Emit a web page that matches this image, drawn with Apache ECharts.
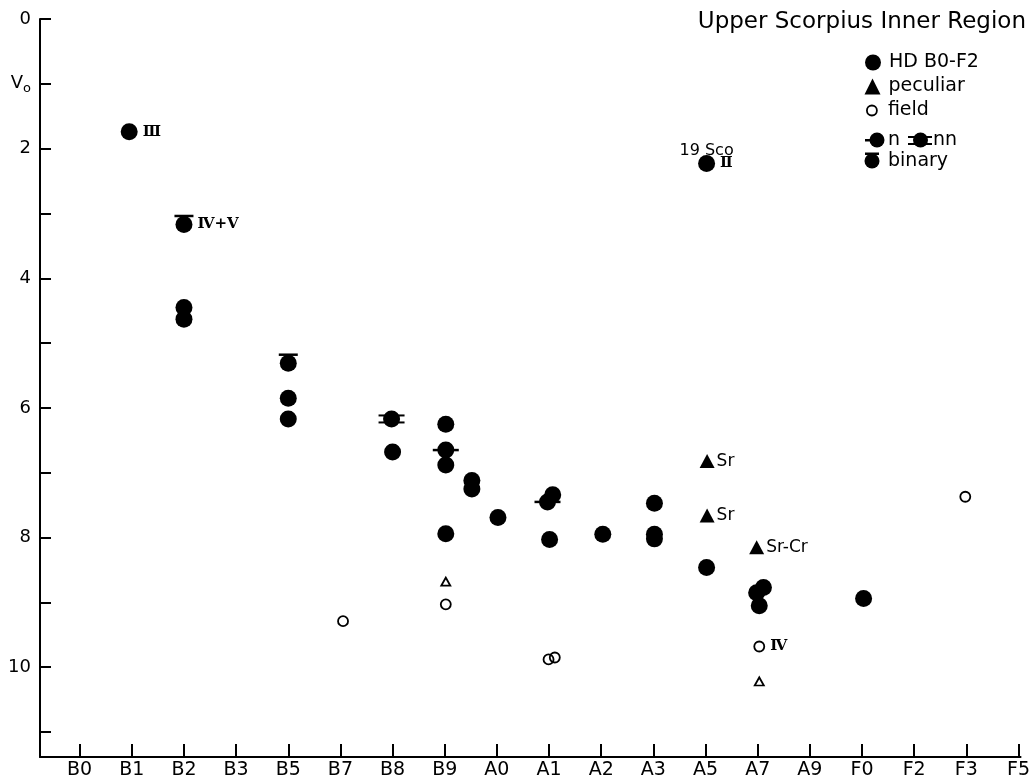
<!DOCTYPE html>
<html>
<head>
<meta charset="utf-8">
<script src="https://cdn.jsdelivr.net/npm/echarts@6/dist/echarts.min.js"></script>
<style>
html,body{margin:0;padding:0;background:#fff;}
#chart{width:1033px;height:780px;}
</style>
</head>
<body>
<div id="chart"></div>
<script>
// Spectral classes along the x axis (index = position on axis)
const spectralTypes = ['B0','B1','B2','B3','B5','B7','B8','B9','A0','A1','A2','A3','A5','A7','A9','F0','F2','F3','F5'];
const xTickValues = spectralTypes.map((_, i) => i);
const yTickValues = [0,1,2,3,4,5,6,7,8,9,10,11];
const yLabelValues = [0,1,2,4,6,8,10];

// HD B0-F2 stars: [spectral index, V0, flag, note]
const hdStars = [
  [0.95, 1.74, '', 'Ⅲ'],
  [2.00, 3.17, 'binary', 'Ⅳ+Ⅴ'],
  [2.00, 4.45, '', ''],
  [2.00, 4.63, '', ''],
  [4.00, 5.31, 'binary', ''],
  [4.00, 5.85, '', ''],
  [4.00, 6.17, '', ''],
  [5.98, 6.17, 'nn', ''],
  [6.00, 6.68, '', ''],
  [7.02, 6.25, '', ''],
  [7.02, 6.65, 'n', ''],
  [7.02, 6.88, '', ''],
  [7.02, 7.94, '', ''],
  [7.52, 7.12, '', ''],
  [7.52, 7.25, '', ''],
  [8.02, 7.69, '', ''],
  [8.97, 7.45, 'n', ''],
  [9.07, 7.34, '', ''],
  [9.01, 8.03, '', ''],
  [10.03, 7.95, '', ''],
  [11.02, 7.47, '', ''],
  [11.02, 7.95, '', ''],
  [11.02, 8.02, '', ''],
  [12.02, 8.46, '', ''],
  [12.02, 2.23, '', 'Ⅱ'],
  [13.11, 8.77, '', ''],
  [12.98, 8.85, '', ''],
  [13.03, 9.05, '', ''],
  [15.03, 8.94, '', '']
];
// Star name annotations: [spectral index, V0, text]
const starNames = [[12.02, 2.23, '19 Sco']];
// Peculiar stars: [spectral index, V0, note]
const peculiar = [
  [12.03, 6.82, 'Sr'],
  [12.03, 7.66, 'Sr'],
  [12.98, 8.15, 'Sr-Cr']
];
// Field stars: [spectral index, V0, note]
const field = [
  [5.05, 9.29, ''],
  [7.02, 9.03, ''],
  [8.99, 9.88, ''],
  [9.11, 9.85, ''],
  [13.03, 9.68, 'Ⅳ'],
  [16.98, 7.37, '']
];
// Field peculiar stars: [spectral index, V0]
const fieldPeculiar = [
  [7.02, 8.68],
  [13.03, 10.22]
];

const FONT = 'DejaVu Sans';
const ROMAN = {fontFamily: 'DejaVu Serif', fontWeight: 'bold', fontSize: 15, color: '#000'};

const hdData = hdStars.map(d => {
  const item = {value: [d[0], d[1]]};
  if (d[3]) item.label = Object.assign({show: true, position: 'right', distance: 5, formatter: d[3]}, ROMAN);
  return item;
});
const pecData = peculiar.map(d => ({value: [d[0], d[1]],
  label: {show: true, position: 'right', distance: 2, formatter: d[2], fontFamily: FONT, fontSize: 17, color: '#000'}}));
const fieldData = field.map(d => {
  const item = {value: [d[0], d[1]]};
  if (d[2]) item.label = Object.assign({show: true, position: 'right', distance: 5, formatter: d[2]}, ROMAN);
  return item;
});
const flagged = f => hdStars.filter(d => d[2] === f).map(d => [d[0], d[1]]);

const LEG_TEXT = {fontFamily: FONT, fontSize: 19, color: '#000'};

const chart = echarts.init(document.getElementById('chart'), null, {renderer: 'canvas'});
chart.setOption({
  animation: false,
  backgroundColor: '#fff',
  title: {
    text: 'Upper Scorpius Inner Region',
    right: 7, top: 11, padding: 0,
    textStyle: {fontFamily: FONT, fontSize: 23, fontWeight: 'normal', color: '#000'}
  },
  legend: [
    {data: [{name: 'HD B0-F2', icon: 'circle'}], orient: 'vertical', left: 865, top: 53, padding: 0,
     itemWidth: 22, itemHeight: 16, selectedMode: false, textStyle: LEG_TEXT},
    {data: [{name: 'peculiar', icon: 'triangle'}], orient: 'vertical', left: 864.5, top: 77, padding: 0,
     itemWidth: 16, itemHeight: 16, selectedMode: false,
     textStyle: Object.assign({padding: [0, 0, 0, 3]}, LEG_TEXT)},
    {data: [{name: 'field', icon: 'circle', itemStyle: {color: 'rgba(255,255,255,0)', borderColor: '#000', borderWidth: 1.8, opacity: 1}}],
     orient: 'vertical', left: 866, top: 101, padding: 0,
     itemWidth: 22, itemHeight: 10, selectedMode: false, textStyle: LEG_TEXT}
  ],
  graphic: [
    {type: 'rect', shape: {x: 865, y: 139, width: 10, height: 2.5}, style: {fill: '#000'}},
    {type: 'circle', shape: {cx: 877, cy: 140, r: 7.5}, style: {fill: '#000'}},
    {type: 'text', x: 888, y: 140, style: {text: 'n', fontFamily: FONT, fontSize: 19, fill: '#000', verticalAlign: 'middle'}},
    {type: 'rect', shape: {x: 908, y: 136, width: 24, height: 2}, style: {fill: '#000'}},
    {type: 'rect', shape: {x: 908, y: 143, width: 24, height: 2}, style: {fill: '#000'}},
    {type: 'circle', shape: {cx: 920.5, cy: 140, r: 7.5}, style: {fill: '#000'}},
    {type: 'text', x: 933, y: 140, style: {text: 'nn', fontFamily: FONT, fontSize: 19, fill: '#000', verticalAlign: 'middle'}},
    {type: 'rect', shape: {x: 865, y: 152.5, width: 14, height: 2.5}, style: {fill: '#000'}},
    {type: 'circle', shape: {cx: 872, cy: 161, r: 7.5}, style: {fill: '#000'}},
    {type: 'text', x: 888, y: 161, style: {text: 'binary', fontFamily: FONT, fontSize: 19, fill: '#000', verticalAlign: 'middle'}}
  ],
  grid: {left: 40, right: 12, top: 19, bottom: 21, containLabel: false},
  xAxis: {
    type: 'value', min: -0.76, max: 18.04,
    axisLine: {show: true, onZero: false, lineStyle: {color: '#000', width: 2}},
    axisTick: {show: true, inside: true, length: 13, customValues: xTickValues, lineStyle: {color: '#000', width: 2}},
    axisLabel: {show: true, customValues: xTickValues, margin: 4,
      formatter: v => spectralTypes[Math.round(v)] || '',
      fontFamily: FONT, fontSize: 19, color: '#000'},
    splitLine: {show: false}
  },
  yAxis: {
    type: 'value', inverse: true, min: 0, max: 11.385,
    axisLine: {show: true, onZero: false, lineStyle: {color: '#000', width: 2}},
    axisTick: {show: true, inside: true, length: 11, customValues: yTickValues, lineStyle: {color: '#000', width: 2}},
    axisLabel: {show: true, customValues: yLabelValues, margin: 9,
      formatter: v => v === 1 ? '{v|V}{o|o}' : String(v),
      fontFamily: FONT, fontSize: 18, color: '#000',
      rich: {
        v: {fontFamily: FONT, fontSize: 18, color: '#000'},
        o: {fontFamily: FONT, fontSize: 13, color: '#000', padding: [10, 0, 0, 0]}
      }},
    splitLine: {show: false}
  },
  series: [
    {name: 'HD B0-F2', type: 'scatter', symbol: 'circle', symbolSize: 17,
     itemStyle: {color: '#000', opacity: 1}, data: hdData, z: 3},
    {name: 'n', type: 'scatter', symbol: 'rect', symbolSize: [26, 2.5],
     itemStyle: {color: '#000', opacity: 1}, data: flagged('n'), z: 4},
    {name: 'nn', type: 'scatter', symbol: 'rect', symbolSize: [26, 2], symbolOffset: [0, -3.5],
     itemStyle: {color: '#000', opacity: 1}, data: flagged('nn'), z: 4},
    {name: 'nn ', type: 'scatter', symbol: 'rect', symbolSize: [26, 2], symbolOffset: [0, 3.5],
     itemStyle: {color: '#000', opacity: 1}, data: flagged('nn'), z: 4},
    {name: 'binary', type: 'scatter', symbol: 'rect', symbolSize: [19, 2.5], symbolOffset: [0, -8.5],
     itemStyle: {color: '#000', opacity: 1}, data: flagged('binary'), z: 4},
    {name: 'star name', type: 'scatter', symbol: 'circle', symbolSize: 0,
     itemStyle: {color: '#000', opacity: 1},
     data: starNames.map(d => [d[0], d[1]]),
     label: {show: true, position: 'top', distance: 5, formatter: p => starNames[p.dataIndex][2],
       fontFamily: FONT, fontSize: 16, color: '#000', opacity: 1}, z: 5},
    {name: 'peculiar', type: 'scatter', symbol: 'triangle', symbolSize: [15, 14],
     itemStyle: {color: '#000', opacity: 1}, data: pecData, z: 3},
    {name: 'field', type: 'scatter', symbol: 'circle', symbolSize: 10,
     itemStyle: {color: 'rgba(255,255,255,0)', borderColor: '#000', borderWidth: 1.8, opacity: 1}, data: fieldData, z: 3},
    {name: 'field peculiar', type: 'scatter', symbol: 'triangle', symbolSize: [9, 8],
     itemStyle: {color: 'rgba(255,255,255,0)', borderColor: '#000', borderWidth: 1.8, opacity: 1}, data: fieldPeculiar, z: 3}
  ]
});
</script>
</body>
</html>
